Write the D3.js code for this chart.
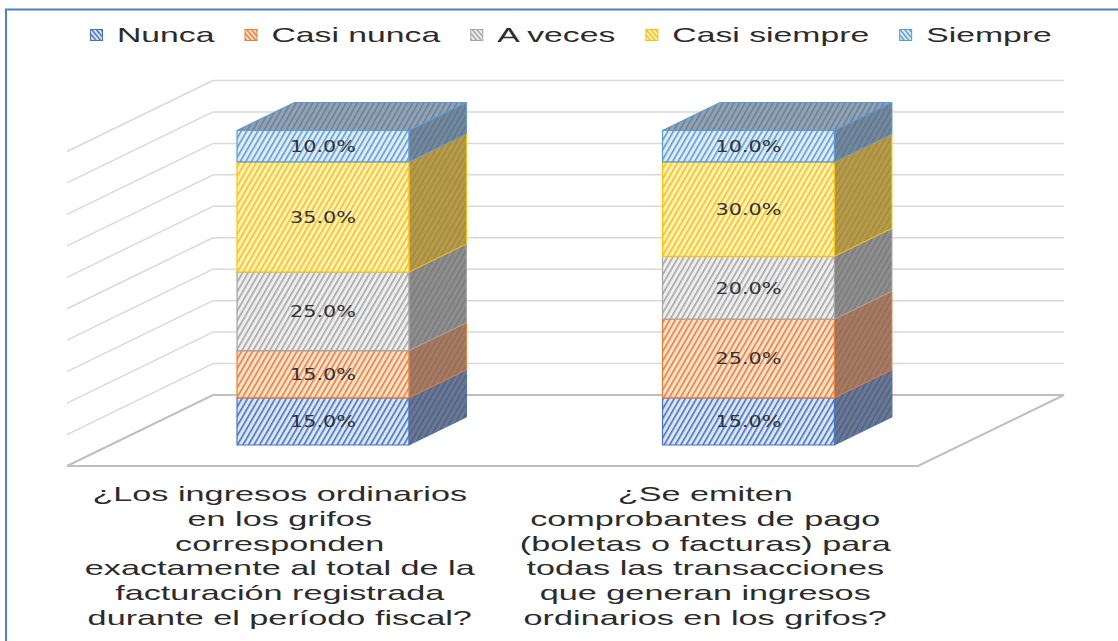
<!DOCTYPE html>
<html>
<head>
<meta charset="utf-8">
<script src="https://cdn.jsdelivr.net/npm/d3@7"></script>
<style>
  html, body { margin: 0; padding: 0; background: #ffffff; }
  svg { display: block; }
</style>
</head>
<body>
<svg id="chart" width="1118" height="641"></svg>
<script>
// ---------------- DATA ----------------
const categories = ["P1", "P2"];
const categoryLabelLines = [
  ["¿Los ingresos ordinarios", "en los grifos", "corresponden", "exactamente al total de la", "facturación registrada", "durante el período fiscal?"],
  ["¿Se emiten", "comprobantes de pago", "(boletas o facturas) para", "todas las transacciones", "que generan ingresos", "ordinarios en los grifos?"]
];
const seriesNames = ["Nunca", "Casi nunca", "A veces", "Casi siempre", "Siempre"];
const nunca       = [15, 15];
const casiNunca   = [15, 25];
const aVeces      = [25, 20];
const casiSiempre = [35, 30];
const siempre     = [10, 10];
const valueTicks  = [0, 10, 20, 30, 40, 50, 60, 70, 80, 90, 100];

// ---------------- STYLE ----------------
const seriesColors = ["#4472C4", "#ED7D31", "#A5A5A5", "#FFC000", "#5B9BD5"];
const frontBg      = ["#dde6f5", "#fce3d2", "#eeeeee", "#fff2c8", "#e0edf9"];
const sideBg       = ["#6c7891", "#a27c66", "#8e8e8e", "#b49b50", "#76889c"];
const sideFg       = ["#4d6088", "#9a6a4f", "#7a7a7a", "#a68a34", "#5b7691"];
const topBg = "#95a2b2", topFg = "#66809c";
const SX = 1.67;             // horizontal text stretch of the reference

const seriesValues = [nunca, casiNunca, aVeces, casiSiempre, siempre];
const table = categories.map((c, i) => {
  const row = { cat: c };
  seriesNames.forEach((s, j) => row[s] = seriesValues[j][i]);
  return row;
});
const stacked = d3.stack().keys(seriesNames)(table);

// ---------------- GEOMETRY ----------------
const svg = d3.select("#chart");
const FRONT_Y = 466;          // floor front edge (value 0, depth 0)
const DX = 146, DY = 71;      // full-depth oblique offset
const BAR_D0 = 0.296, BAR_D1 = 0.69;

const xBand = d3.scaleBand().domain(categories).range([67, 918])
  .paddingInner(0.596).paddingOuter(0.298);
const yH = d3.scaleLinear().domain([0, 100]).range([0, 314.5]);

function P(u, v, d) {
  return [u + d * DX, FRONT_Y - d * DY - yH(v)];
}
function poly(pts) { return "M" + pts.map(p => p.join(",")).join("L") + "Z"; }

// ---------------- PATTERNS ----------------
const defs = svg.append("defs");
function hatch(id, bg, fg, angle, w = 4.8, sw = 1.6) {
  const p = defs.append("pattern").attr("id", id)
    .attr("patternUnits", "userSpaceOnUse")
    .attr("width", w).attr("height", 10)
    .attr("patternTransform", `rotate(${angle})`);
  p.append("rect").attr("width", w).attr("height", 10).attr("fill", bg);
  p.append("rect").attr("width", sw).attr("height", 10).attr("fill", fg);
}
seriesNames.forEach((s, j) => {
  hatch("front" + j, frontBg[j], seriesColors[j], 30);
  hatch("side" + j, sideBg[j], sideFg[j], 30);
  hatch("leg" + j, frontBg[j], seriesColors[j], -40, 3.6, 1.5);
});
hatch("top", topBg, topFg, 30);

// ---------------- BORDER ----------------
svg.append("rect").attr("x", 6).attr("y", 9.5).attr("width", 1200).attr("height", 700)
  .attr("fill", "none").attr("stroke", "#4f7fc6").attr("stroke-width", 2);

// ---------------- WALLS / GRID ----------------
const uL = xBand.range()[0], uR = xBand.range()[1];
const grid = svg.append("g");
valueTicks.forEach(v => {
  if (v === 0) return;
  const b0 = P(uL, v, 1), b1 = P(uR, v, 1), f0 = P(uL, v, 0);
  grid.append("line").attr("x1", b0[0]).attr("y1", b0[1]).attr("x2", b1[0]).attr("y2", b1[1])
    .attr("stroke", "#d9d9d9").attr("stroke-width", 1.5);
  grid.append("line").attr("x1", b0[0]).attr("y1", b0[1]).attr("x2", f0[0]).attr("y2", f0[1])
    .attr("stroke", "#d9d9d9").attr("stroke-width", 1.5);
});
// floor
grid.append("path")
  .attr("d", poly([P(uL, 0, 0), P(uL, 0, 1), P(uR, 0, 1), P(uR, 0, 0)]))
  .attr("fill", "none").attr("stroke", "#bfbfbf").attr("stroke-width", 2);

// ---------------- BARS ----------------
const bars = svg.append("g");
categories.forEach((c, i) => {
  const u0 = xBand(c), u1 = xBand(c) + xBand.bandwidth();
  stacked.forEach((layer, j) => {
    const v0 = layer[i][0], v1 = layer[i][1];
    bars.append("path")
      .attr("d", poly([P(u1, v0, BAR_D0), P(u1, v0, BAR_D1), P(u1, v1, BAR_D1), P(u1, v1, BAR_D0)]))
      .attr("fill", `url(#side${j})`).attr("stroke", seriesColors[j]).attr("stroke-width", 1);
    bars.append("path")
      .attr("d", poly([P(u0, v0, BAR_D0), P(u1, v0, BAR_D0), P(u1, v1, BAR_D0), P(u0, v1, BAR_D0)]))
      .attr("fill", `url(#front${j})`).attr("stroke", seriesColors[j]).attr("stroke-width", 1.2);
  });
  const last = stacked.length - 1;
  const vt = stacked[last][i][1];
  bars.append("path")
    .attr("d", poly([P(u0, vt, BAR_D0), P(u1, vt, BAR_D0), P(u1, vt, BAR_D1), P(u0, vt, BAR_D1)]))
    .attr("fill", "url(#top)").attr("stroke", seriesColors[last]).attr("stroke-width", 1.2);
  stacked.forEach((layer, j) => {
    const v0 = layer[i][0], v1 = layer[i][1];
    const cx = (u0 + u1) / 2 + BAR_D0 * DX;
    const cy = P(0, (v0 + v1) / 2, BAR_D0)[1];
    bars.append("text")
      .attr("transform", `translate(${cx},${cy}) scale(1.3,1)`)
      .attr("text-anchor", "middle").attr("dy", "0.36em")
      .attr("font-family", "DejaVu Sans, sans-serif").attr("font-size", 16)
      .attr("fill", "#333333")
      .text(d3.format(".1%")((v1 - v0) / 100));
  });
});

// ---------------- CATEGORY LABELS ----------------
const catG = svg.append("g");
categories.forEach((c, i) => {
  const cx = xBand(c) + xBand.bandwidth() / 2;
  categoryLabelLines[i].forEach((line, k) => {
    catG.append("text")
      .attr("transform", `translate(${cx},${501 + k * 24.8}) scale(${SX},1)`)
      .attr("text-anchor", "middle")
      .attr("font-family", "Liberation Sans, Arial, sans-serif").attr("font-size", 20.5)
      .attr("fill", "#2b2b2b")
      .text(line);
  });
});

// ---------------- LEGEND ----------------
const leg = svg.append("g");
let lx = 90;
seriesNames.forEach((s, j) => {
  leg.append("rect").attr("x", lx + 0.5).attr("y", 29.5).attr("width", 12).attr("height", 11)
    .attr("fill", `url(#leg${j})`).attr("stroke", seriesColors[j]).attr("stroke-width", 1);
  const t = leg.append("text")
    .attr("transform", `translate(${lx + 27},42) scale(${SX},1)`)
    .attr("font-family", "Liberation Sans, Arial, sans-serif").attr("font-size", 20.2)
    .attr("fill", "#2b2b2b")
    .text(s);
  const w = t.node().getComputedTextLength() * SX;
  lx += 27 + w + 30;
});
</script>
</body>
</html>
